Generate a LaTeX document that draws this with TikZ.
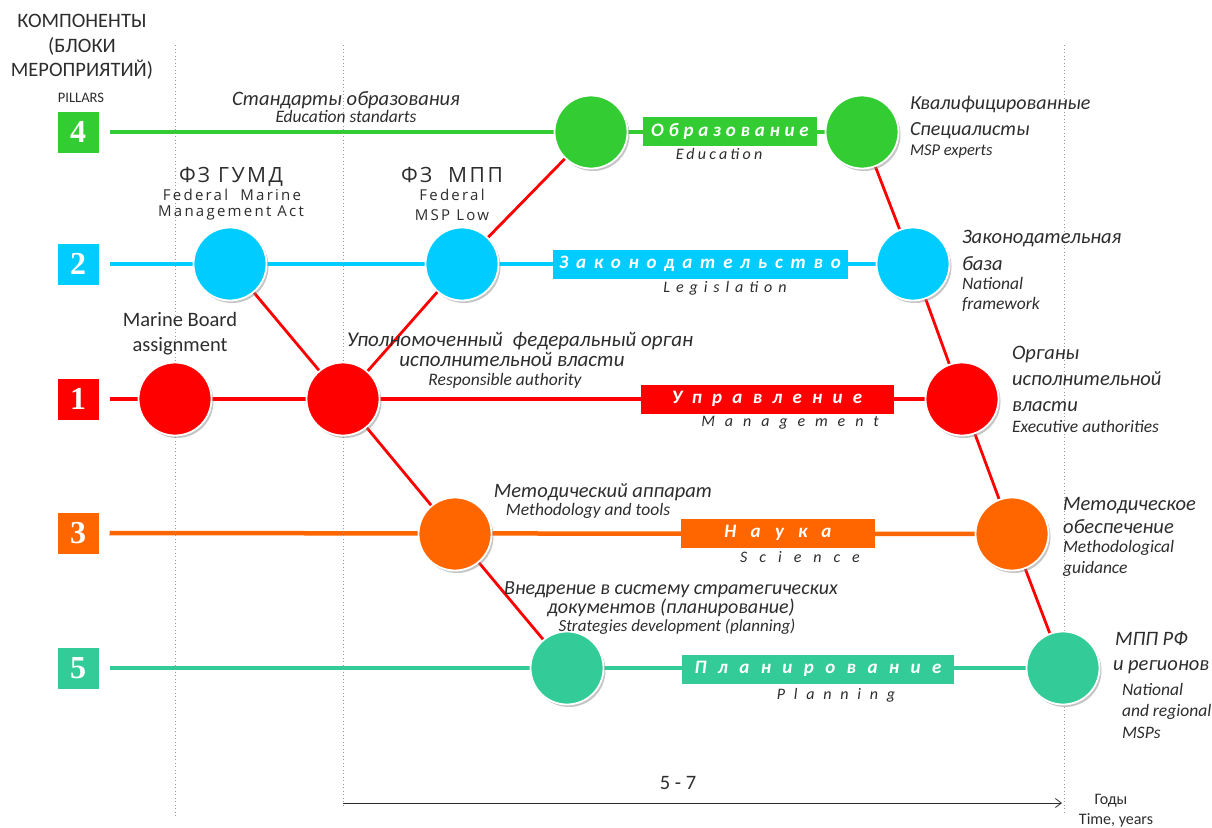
\documentclass[tikz,border=0pt]{standalone}
\usepackage{fontspec}
\setmainfont{Carlito}
\newfontfamily\numfont{Liberation Serif}
\newfontfamily\geofont{Open Sans}
\usetikzlibrary{shadows,arrows.meta}
\definecolor{cgreen}{RGB}{51,204,51}
\definecolor{cblue}{RGB}{0,204,255}
\definecolor{cred}{RGB}{255,0,0}
\definecolor{corange}{RGB}{255,102,0}
\definecolor{cteal}{RGB}{51,204,153}
\definecolor{ink}{RGB}{45,45,45}
\pgfdeclarelayer{bg}
\pgfsetlayers{bg,main}
\newcommand\spc[2]{{\addfontfeature{LetterSpace=#1}#2}}
\newcommand\fs[1]{\fontsize{#1}{#1}\selectfont}
\begin{document}
\begin{tikzpicture}[x=1pt,y=-1pt,
  every node/.style={inner sep=0pt, outer sep=0pt},
  pillar/.style={fill=#1, minimum width=41pt, minimum height=41pt, text=white, font=\numfont\bfseries\fs{32}},
  hub/.style={circle, fill=#1, draw=white, line width=1.8pt, minimum size=73pt, drop shadow={opacity=0.45, shadow xshift=2pt, shadow yshift=-2.5pt}},
  track/.style={draw=#1, line width=4.5pt, shorten <=11pt},
  link/.style={draw=cred, line width=2.8pt},
  tag/.style={fill=#1, text=white, minimum height=29pt, font=\bfseries\itshape\fs{19}},
  sub/.style={text=ink, font=\itshape\fs{16}},
  lbl/.style={text=ink, font=\itshape\fs{20.5}},
  sml/.style={text=ink, font=\itshape\fs{17.5}},
  up/.style={text=ink, font=\fs{20.5}},
  geo/.style={text=ink, font=\geofont\fs{15}},
  guide/.style={draw=gray!80, line width=1pt, dash pattern=on 1pt off 2.5pt},
]
\begin{pgfonlayer}{bg}
\fill[white] (0,0) rectangle (1212,827);
\end{pgfonlayer}
\useasboundingbox (0,0) rectangle (1212,827);

% header
\node[up, anchor=mid] (h1) at (82,25) {КОМПОНЕНТЫ};
\node[up, anchor=mid] (h2) at (82,50) {(БЛОКИ};
\node[up, anchor=mid] (h3) at (82,74) {МЕРОПРИЯТИЙ)};
\node[up, font=\fs{14.5}, anchor=mid] (h4) at (81,100) {PILLARS};

% pillar boxes
\node[pillar=cgreen] (p4) at (78,132) {4};
\node[pillar=cblue] (p2) at (78,264) {2};
\node[pillar=cred] (p1) at (78,399) {1};
\node[pillar=corange] (p3) at (78,533) {3};
\node[pillar=cteal] (p5) at (78,668) {5};

% hubs
\node[hub=cgreen] (G1) at (591,132) {};
\node[hub=cgreen] (G2) at (862,132) {};
\node[hub=cblue] (B1) at (230,264) {};
\node[hub=cblue] (B2) at (462,264) {};
\node[hub=cblue] (B3) at (913,264) {};
\node[hub=cred] (R1) at (175,399) {};
\node[hub=cred] (R2) at (343,399) {};
\node[hub=cred] (R3) at (962,399) {};
\node[hub=corange] (O1) at (455,534) {};
\node[hub=corange] (O2) at (1012,534) {};
\node[hub=cteal] (T1) at (567,668) {};
\node[hub=cteal] (T2) at (1063,668) {};

% tags
\node[tag=cgreen, minimum width=174pt] (tE) at (730,131) {\spc{25}{Образование}};
\node[tag=cblue, minimum width=295pt] (tL) at (700,264) {\spc{41}{Законодательство}};
\node[tag=cred, minimum width=253pt] (tM) at (767,399) {\spc{54}{Управление}};
\node[tag=corange, minimum width=194pt] (tS) at (778,533) {\spc{75}{Наука}};
\node[tag=cteal, minimum width=272pt] (tP) at (818,669) {\spc{60}{Планирование}};

\node[sub, anchor=mid] (sE) at (719,157) {\spc{20}{Education}};
\node[sub, anchor=mid] (sL) at (725,290) {\spc{37}{Legislation}};
\node[sub, anchor=mid] (sM) at (790,424) {\spc{62}{Management}};
\node[sub, anchor=mid] (sS) at (800,560) {\spc{75}{Science}};
\node[sub, anchor=mid] (sP) at (836,697) {\spc{55}{Planning}};

% guides
\coordinate (d1t) at (175,45);  \coordinate (d1b) at (175,818);
\coordinate (d2t) at (343,45);  \coordinate (d2b) at (343,808);
\coordinate (d3t) at (1064,45); \coordinate (d3b) at (1064,813);
\coordinate (a0) at (343,803);  \coordinate (a1) at (1062,803);

\begin{pgfonlayer}{bg}
\draw[track=cgreen] (p4) -- (G2);
\draw[track=cblue] (p2) -- (B3);
\draw[track=cred] (p1) -- (R3);
\draw[track=corange] (p3) -- (O2);
\draw[track=cteal] (p5) -- (T2);
\draw[link] (B1) -- (R2);
\draw[link] (R2) -- (B2);
\draw[link] (B2) -- (G1);
\draw[link] (R2) -- (O1);
\draw[link] (O1) -- (T1);
\draw[link] (G2) -- (B3);
\draw[link] (B3) -- (R3);
\draw[link] (R3) -- (O2);
\draw[link] (O2) -- (T2);
\draw[guide] (d1t) -- (d1b);
\draw[guide] (d2t) -- (d2b);
\draw[guide] (d3t) -- (d3b);
\end{pgfonlayer}
\draw[-{Straight Barb[length=6pt,width=9pt]}, line width=0.8pt, draw=ink] (a0) -- (a1);

% texts
\node[lbl, anchor=mid] (t1) at (346,103) {Стандарты образования};
\node[sml, anchor=mid] (t2) at (346,120) {Education standarts};

\node[lbl, font=\itshape\fs{20}, anchor=mid west] (k1) at (910,107) {Квалифицированные};
\node[lbl, font=\itshape\fs{20}, anchor=mid west] (k2) at (910,133) {Специалисты};
\node[sml, font=\itshape\fs{16.5}, anchor=mid west] (k3) at (910,153) {MSP experts};

\node[geo, font=\geofont\fs{21}, anchor=mid] (f1) at (231,180) {\spc{12}{ФЗ ГУМД}};
\node[geo, anchor=mid] (f2) at (232,198) {\spc{15}{Federal\ \ Marine}};
\node[geo, anchor=mid] (f3) at (231,214) {\spc{15}{Management Act}};
\node[geo, font=\geofont\fs{21}, anchor=mid] (f4) at (452,180) {\spc{12}{ФЗ\ \ МПП}};
\node[geo, anchor=mid] (f5) at (452,198) {\spc{15}{Federal}};
\node[geo, anchor=mid] (f6) at (452,218) {\spc{15}{MSP Low}};

\node[lbl, anchor=mid west] (z1) at (962,241) {Законодательная};
\node[lbl, anchor=mid west] (z2) at (962,268) {база};
\node[sml, anchor=mid west] (z3) at (962,287) {National};
\node[sml, anchor=mid west] (z4) at (962,307) {framework};

\node[up, anchor=mid] (m1) at (180,324) {Marine Board};
\node[up, anchor=mid] (m2) at (180,349) {assignment};

\node[lbl, font=\itshape\fs{21}, anchor=mid] (u1) at (520,344) {Уполномоченный\ \ федеральный орган};
\node[lbl, font=\itshape\fs{21}, anchor=mid] (u2) at (512,364) {исполнительной власти};
\node[sml, anchor=mid] (u3) at (505,383) {Responsible authority};

\node[lbl, anchor=mid west] (o1) at (1012,357) {Органы};
\node[lbl, anchor=mid west] (o2) at (1012,383) {исполнительной};
\node[lbl, anchor=mid west] (o3) at (1012,409) {власти};
\node[sml, anchor=mid west] (o4) at (1012,430) {Executive authorities};

\node[lbl, anchor=mid] (mt1) at (603,495) {Методический аппарат};
\node[sml, anchor=mid] (mt2) at (588,513) {Methodology and tools};

\node[lbl, anchor=mid west] (mo1) at (1063,508) {Методическое};
\node[lbl, anchor=mid west] (mo2) at (1063,531) {обеспечение};
\node[sml, anchor=mid west] (mo3) at (1063,550) {Methodological};
\node[sml, anchor=mid west] (mo4) at (1063,571) {guidance};

\node[lbl, font=\itshape\fs{20}, anchor=mid] (v1) at (671,592) {Внедрение в систему стратегических};
\node[lbl, font=\itshape\fs{20}, anchor=mid] (v2) at (671,611) {документов (планирование)};
\node[sml, font=\itshape\fs{17}, anchor=mid] (v3) at (677,629) {Strategies development (planning)};

\node[lbl, anchor=mid west] (n1) at (1115,643) {МПП РФ};
\node[lbl, anchor=mid west] (n2) at (1113,668) {и регионов};
\node[sml, anchor=mid west] (n3) at (1122,693) {National};
\node[sml, anchor=mid west] (n4) at (1122,714) {and regional};
\node[sml, anchor=mid west] (n5) at (1122,736) {MSPs};

\node[up, anchor=mid] (yr) at (678,787) {5 - 7};
\node[up, font=\fs{16}, anchor=mid] (g1) at (1111,802) {Годы};
\node[up, font=\fs{16}, anchor=mid] (g2) at (1116,822) {Time, years};
\end{tikzpicture}
\end{document}
